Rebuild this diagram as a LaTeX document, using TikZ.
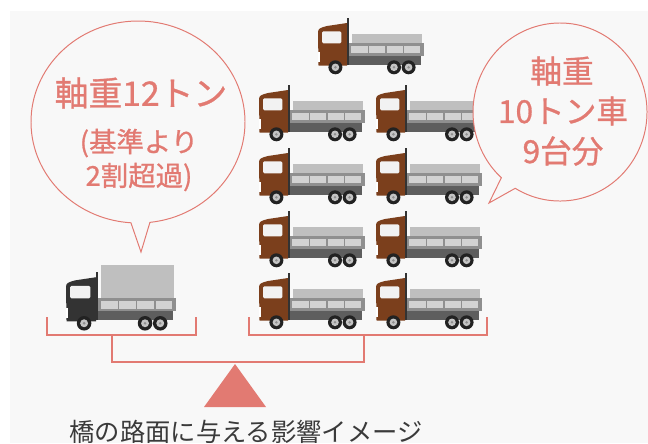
\documentclass[tikz,border=0pt]{standalone}
\usepackage{fontspec}
\usepackage{xcolor}
\usepackage{tikz}
\usetikzlibrary{
    positioning,
    calc
}
\setmainfont{Noto Sans CJK JP}
\newfontfamily\bubblefont{Noto Sans CJK JP}[FakeBold=0.9]
\definecolor{axsalmon}{HTML}{E27A72}
\definecolor{axpanel}{HTML}{F8F8F8}
\definecolor{axbrown}{HTML}{7B3F1C}
\definecolor{axdark}{HTML}{333333}
\definecolor{axload}{HTML}{BFBFBF}
\definecolor{axframe}{HTML}{8F8F8F}
\definecolor{axslat}{HTML}{D2D2D2}
\definecolor{axchassis}{HTML}{5E5E5E}
\definecolor{axtyre}{HTML}{222222}
\definecolor{axhub}{HTML}{C4C4C4}
\definecolor{axtext}{HTML}{3A3A3A}
\tikzset{
    % Speech bubble outline
    bubble/.style={
        draw=axsalmon,
        fill=axpanel,
        line width=0.7pt
    },
    % Text inside the bubbles
    bubbletext/.style={
        text=axsalmon,
        font=\bubblefont\fontsize{#1}{#1}\selectfont,
        inner sep=0pt
    },
    % Caption under the scale
    captiontext/.style={
        text=axtext,
        font=\fontsize{18pt}{18pt}\selectfont,
        inner sep=0pt
    },
    % Balance beam and brackets
    beam/.style={
        draw=axsalmon,
        line width=2pt
    },
    % Truck: #1 = cab colour, #2 = top edge of the load
    pics/truck/.style 2 args={
        code={
            \fill[axload] (34,#2) rectangle (103.5,25.5);
            \fill[axframe] (30,25.3) rectangle (105.5,37.7);
            \foreach \px in {33.4,51,68.6,86.2}
                \fill[axslat] (\px,27.7) rectangle ++(16.2,7.6);
            \fill[axchassis] (30,37.7) rectangle (103,46.5);
            % cab
            \fill[#1] (0.5,47.5) -- (0,14) .. controls (0,10.5) and (3,9.5) .. (9,8) -- (29,5) -- (29,47.5) -- cycle;
            \fill[white!95!black, rounded corners=1pt] (4,13.3) rectangle (23.4,25.3);
            \fill[white] (0.4,34.3) rectangle (2,44.3);
            \fill[axdark] (29,0) rectangle (31,46.5);
            % wheels
            \foreach \wx in {17.4,76,90.6} {
                \fill[axtyre] (\wx,49.3) circle (7);
                \fill[axhub] (\wx,49.3) circle (3.8);
                \fill[axframe] (\wx,49.3) circle (1.4);
            }
        }
    }
}

\begin{document}
\begin{tikzpicture}[x=0.025cm, y=-0.025cm]

    % Page and panel
    \useasboundingbox (0,0) rectangle (648,443);
    \fill[white] (0,0) rectangle (648,443);
    \fill[axpanel] (10,11) rectangle (648,443);

    % Overloaded truck (left)
    \pic[scale=1.04] at (66,272) {truck={axdark}{-7}};

    % Nine regular trucks (right)
    \pic at (318,18) {truck={axbrown}{16}};
    \foreach \ty in {85,148,211,273} {
        \pic at (259,\ty) {truck={axbrown}{16}};
        \pic at (376,\ty) {truck={axbrown}{16}};
    }

    % Bubble centres and tail tips
    \coordinate (lbub) at (138,122);
    \coordinate (ltip) at (141,252);
    \coordinate (rbub) at (560,112);
    \coordinate (rtip) at (489,203);

    % Left bubble
    \draw[bubble] (ltip) -- ($(lbub)+(83.6:107 and 101)$)
        arc[start angle=83.6, end angle=-266.2, x radius=107, y radius=101] -- cycle;
    \node[bubbletext=24pt] (lt1) at (141,93) {軸重12トン};
    \node[bubbletext=19.5pt] (lt2) at (139,143) {(基準より};
    \node[bubbletext=19.5pt] (lt3) at (139,177) {2割超過)};

    % Right bubble
    \draw[bubble] (rtip) -- ($(rbub)+(121:87 and 89)$)
        arc[start angle=121, end angle=-227.6, x radius=87, y radius=89] -- cycle;
    \node[bubbletext=22.5pt] (rt1) at (562,71) {軸重};
    \node[bubbletext=22.5pt] (rt2) at (563,111) {10トン車};
    \node[bubbletext=22.5pt] (rt3) at (563,151) {9台分};

    % Brackets under each side
    \coordinate (lb-a) at (47,317);
    \coordinate (lb-b) at (196,317);
    \coordinate (rb-a) at (249,317);
    \coordinate (rb-b) at (487,317);
    \draw[beam] (lb-a) -- ++(0,18) -| (lb-b);
    \draw[beam] (rb-a) -- ++(0,18) -| (rb-b);

    % Balance beam
    \coordinate (lstem) at (112,335);
    \coordinate (rstem) at (364,335);
    \draw[beam] (lstem) -- ++(0,27) -| (rstem);

    % Pivot
    \coordinate (pivot) at (235,364);
    \fill[axsalmon] (pivot) -- ++(31,43) -- ++(-62,0) -- cycle;

    % Caption
    \node[captiontext] (caption) at (246,432) {橋の路面に与える影響イメージ};

\end{tikzpicture}
\end{document}
